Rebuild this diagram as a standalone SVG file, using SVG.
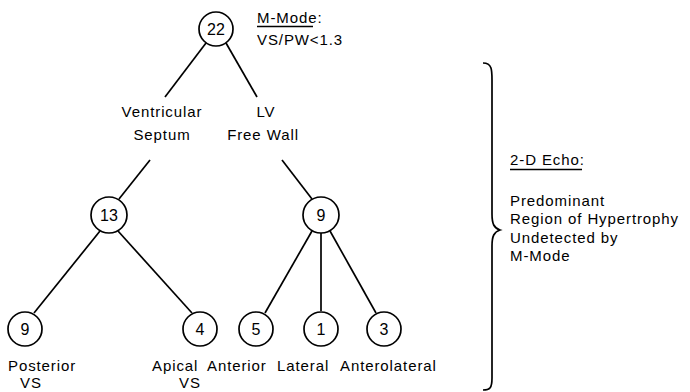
<svg xmlns="http://www.w3.org/2000/svg" width="690" height="392" viewBox="0 0 690 392">
  <style>
    text { font-family: "Liberation Sans", Arial, Helvetica, sans-serif; font-size: 15px; fill: #000; letter-spacing: 0.9px; }
    .num { text-anchor: middle; font-size: 16px; letter-spacing: 0; }
    .mid { text-anchor: middle; }
    .node circle { fill: #fff; stroke: #000; stroke-width: 1.7; }
    .edge { stroke: #000; stroke-width: 1.7; fill: none; }
    .rule { stroke: #000; stroke-width: 1.3; }
  </style>
  <rect width="690" height="392" fill="#fff"/>

  <!-- connectors -->
  <g id="connectors">
    <line class="edge" x1="206" y1="43" x2="165" y2="97"/>
    <line class="edge" x1="226" y1="43" x2="257" y2="97"/>
    <line class="edge" x1="150" y1="160" x2="119" y2="199"/>
    <line class="edge" x1="282" y1="160" x2="312" y2="199"/>
    <line class="edge" x1="100" y1="231" x2="34" y2="313"/>
    <line class="edge" x1="118" y1="231" x2="192" y2="313"/>
    <line class="edge" x1="312" y1="231" x2="265" y2="313"/>
    <line class="edge" x1="321" y1="233" x2="321" y2="311"/>
    <line class="edge" x1="330" y1="231" x2="376" y2="313"/>
  </g>

  <!-- tree nodes -->
  <g id="n22" class="node"><circle cx="216" cy="29" r="17"/><text class="num" x="216" y="35">22</text></g>
  <g id="n13" class="node"><circle cx="109" cy="215" r="18"/><text class="num" x="109" y="221">13</text></g>
  <g id="n9top" class="node"><circle cx="321" cy="215" r="18"/><text class="num" x="321" y="221">9</text></g>
  <g id="n9" class="node"><circle cx="25" cy="329" r="17"/><text class="num" x="25" y="335">9</text></g>
  <g id="n4" class="node"><circle cx="200" cy="329" r="17"/><text class="num" x="200" y="335">4</text></g>
  <g id="n5" class="node"><circle cx="256" cy="329" r="17"/><text class="num" x="256" y="335">5</text></g>
  <g id="n1" class="node"><circle cx="321" cy="329" r="17"/><text class="num" x="321" y="335">1</text></g>
  <g id="n3" class="node"><circle cx="384" cy="329" r="17"/><text class="num" x="384" y="335">3</text></g>

  <!-- branch labels -->
  <g id="lbl-septum"><text class="mid" x="162" y="117">Ventricular</text><text class="mid" x="162" y="140">Septum</text></g>
  <g id="lbl-freewall"><text class="mid" x="266" y="117">LV</text><text class="mid" x="263" y="140">Free Wall</text></g>

  <!-- leaf labels -->
  <g id="lbl-posterior"><text x="8" y="371">Posterior</text><text class="mid" x="31" y="388">VS</text></g>
  <g id="lbl-apical"><text x="152" y="371">Apical</text><text class="mid" x="190" y="388">VS</text></g>
  <g id="lbl-anterior"><text x="207" y="371">Anterior</text></g>
  <g id="lbl-lateral"><text x="277" y="371">Lateral</text></g>
  <g id="lbl-anterolateral"><text x="340" y="371">Anterolateral</text></g>

  <!-- M-mode criterion -->
  <g id="mmode">
    <text x="257" y="23">M-Mode:</text>
    <line class="rule" x1="257" y1="26.5" x2="313" y2="26.5"/>
    <text x="257" y="45">VS/PW&lt;1.3</text>
  </g>

  <!-- right-hand brace and note -->
  <path id="brace" class="edge" d="M483,63 C492,63 492,70 492,80 L492,214 C492,224 494,228 500,230 C494,232 492,236 492,246 L492,378 C492,388 490,390 483,390"/>
  <g id="echo-note">
    <text x="510" y="165">2-D Echo:</text>
    <line class="rule" x1="510" y1="169.5" x2="582" y2="169.5"/>
    <text x="510" y="206">Predominant</text>
    <text x="510" y="224">Region of Hypertrophy</text>
    <text x="510" y="243">Undetected by</text>
    <text x="510" y="261">M-Mode</text>
  </g>
</svg>
